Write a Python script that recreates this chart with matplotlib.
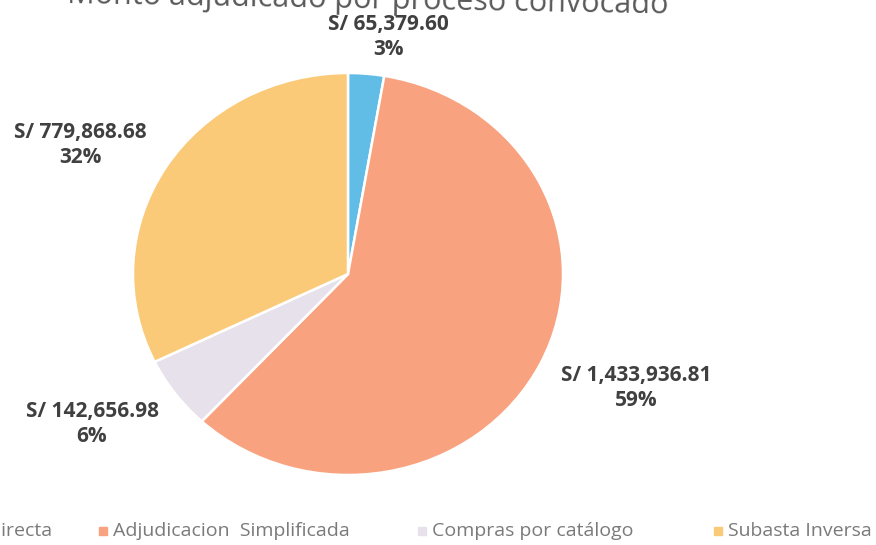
import matplotlib
matplotlib.use("Agg")
import matplotlib.pyplot as plt
from matplotlib.lines import Line2D

categories = ["Contratación Directa", "Adjudicacion  Simplificada", "Compras por catálogo", "Subasta Inversa"]
values = [65379.60, 1433936.81, 142656.98, 779868.68]
colors = ["#62bde6", "#f9a27f", "#e6e1ea", "#fbca78"]
title = "Monto adjudicado por proceso convocado"

W, H = 876, 545
fig = plt.figure(figsize=(W / 100, H / 100), dpi=100)
fig.patch.set_facecolor("white")

cx, cy, RX, RY = 348, 274, 215, 201
ax = fig.add_axes([(cx - RX) / W, (H - cy - RY) / H, 2 * RX / W, 2 * RY / H])
wedges, _ = ax.pie(values, colors=colors, startangle=90, counterclock=False,
                   radius=1.0, wedgeprops=dict(edgecolor="white", linewidth=1.8))
ax.set_xlim(-1.0, 1.0)
ax.set_ylim(-1.0, 1.0)
ax.set_aspect("auto")
ax.axis("off")

total = sum(values)
label_pos = [(388, 37), (636, 388), (92, 424), (80, 145)]
for v, (px, py) in zip(values, label_pos):
    txt = "S/ {:,.2f}\n{:.0f}%".format(v, 100 * v / total)
    fig.text(px / W, 1 - py / H, txt, ha="center", va="center", fontsize=15,
             fontweight="bold", color="#404040", family="Open Sans", linespacing=1.3,
             multialignment="center")

fig.text(368 / W, 1 - 8 / H, title, ha="center", va="baseline", fontsize=22,
         color="#595959", family="Open Sans", rotation=-1.0, rotation_mode="anchor")

# legend
leg_x = [None, 103, 422, 718]
ty = 1 - 531 / H
for i, (cat, col) in enumerate(zip(categories, colors)):
    if i == 0:
        fig.text(52 / W, ty, cat, ha="right", va="center", fontsize=14,
                 color="#7a7a7a", family="Open Sans")
        continue
    mx = leg_x[i]
    fig.add_artist(Line2D([mx / W], [ty], marker="s", markersize=6, color=col,
                          linestyle="none", transform=fig.transFigure))
    fig.text((mx + 10) / W, ty, cat, ha="left", va="center", fontsize=14,
             color="#7a7a7a", family="Open Sans")

fig.savefig("out.png", dpi=100, facecolor="white")
